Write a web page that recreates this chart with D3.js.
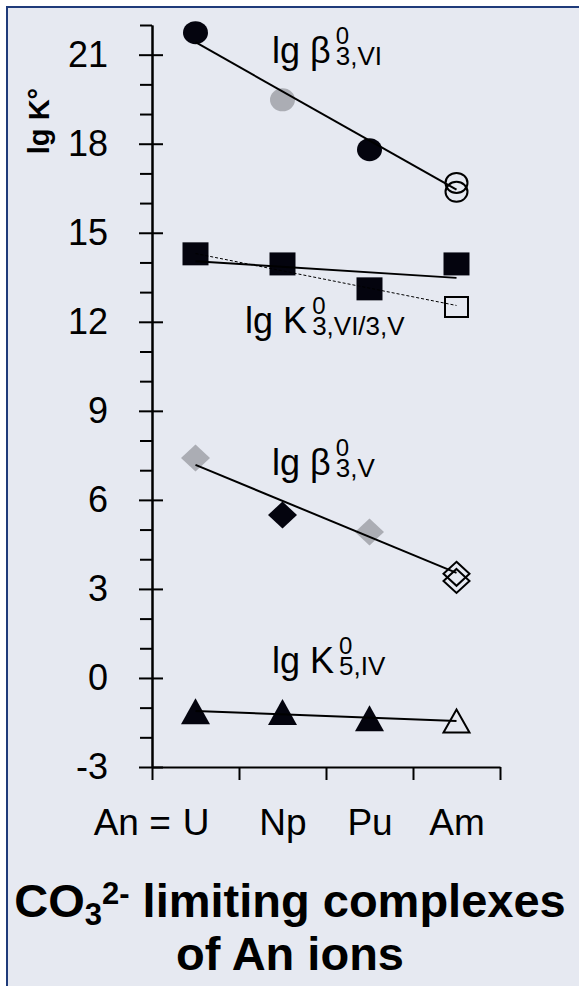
<!DOCTYPE html>
<html>
<head>
<meta charset="utf-8">
<script src="https://cdn.jsdelivr.net/npm/d3@7"></script>
<style>
  body { margin: 0; background: #fff; }
  svg { display: block; font-family: 'Liberation Sans', Arial, sans-serif; }
</style>
</head>
<body>
<svg id="chart" width="579" height="986"></svg>
<script>
const actinides = ['U', 'Np', 'Pu', 'Am'];

// lg β0(3,VI) - circles
const betaVI = [21.74, 19.48, 17.8, 16.68];
const betaVIKind = ['black', 'gray', 'black', 'open'];
const betaVIAmAlt = 16.38;
const betaVIFit = [21.42, 16.45];

// lg K0(3,VI/3,V) - squares
const kVI = [14.29, 13.95, 13.11, 13.95];
const kVIKind = ['black', 'black', 'black', 'black'];
const kVIAmAlt = 12.5;
const kVIFit = [14.04, 13.48];
const kVIFitAlt = [14.3, 12.55];

// lg β0(3,V) - diamonds
const betaV = [7.41, 5.49, 4.92, 3.51];
const betaVKind = ['gray', 'black', 'gray', 'open'];
const betaVAmAlt = 3.27;
const betaVFit = [7.18, 3.54];

// lg K0(5,IV) - triangles
const kIV = [-1.12, -1.15, -1.36, -1.45];
const kIVKind = ['black', 'black', 'black', 'open'];
const kIVFit = [-1.11, -1.45];

const yMajor = [-3, 0, 3, 6, 9, 12, 15, 18, 21];
const yMinor = [-2, -1, 1, 2, 4, 5, 7, 8, 10, 11, 13, 14, 16, 17, 19, 20, 22];
const xBounds = [-0.5, 0.5, 1.5, 2.5, 3.5];

const seriesLabels = [
  {main: 'lg β', sup: '0', sub: '3,VI', at: [0.88, 20.72]},
  {main: 'lg K', sup: '0', sub: '3,VI/3,V', at: [0.57, 11.62]},
  {main: 'lg β', sup: '0', sub: '3,V', at: [0.88, 6.84]},
  {main: 'lg K', sup: '0', sub: '5,IV', at: [0.88, 0.17]}
];

const colors = {black: '#04040e', gray: '#abadb4'};

const svg = d3.select('#chart');

// panel
svg.append('rect')
  .attr('x', 7).attr('y', 7)
  .attr('width', 620).attr('height', 1020)
  .attr('fill', '#e6e9f1')
  .attr('stroke', '#1f3b7a')
  .attr('stroke-width', 2);

const x = d3.scaleLinear().domain([-0.5, 3.5]).range([152, 500]);
const y = d3.scaleLinear().domain([-3, 22]).range([767, 25]);

// y axis
const gy = svg.append('g').attr('transform', `translate(${x(-0.5)},0)`);
gy.append('g')
  .call(d3.axisLeft(y).tickValues(yMinor).tickSize(12).tickSizeOuter(0).tickFormat(''));
gy.append('g')
  .call(d3.axisLeft(y).tickValues(yMajor).tickSize(13).tickSizeOuter(0).tickPadding(31).tickFormat(d => String(d)));
gy.append('g')
  .call(d3.axisRight(y).tickValues(yMajor).tickSize(11).tickSizeOuter(0).tickFormat(''))
  .select('.domain').remove();

// x axis
const gx = svg.append('g').attr('transform', `translate(0,${y(-3)})`);
gx.append('g')
  .call(d3.axisBottom(x).tickValues(xBounds).tickSize(13).tickSizeOuter(0).tickFormat(''));
gx.append('g')
  .call(d3.axisBottom(x).tickValues([0, 1, 2, 3]).tickSize(0).tickPadding(42).tickFormat(i => actinides[i]))
  .select('.domain').remove();

svg.selectAll('.tick line, .domain')
  .attr('stroke', '#000')
  .attr('stroke-width', 2);
svg.selectAll('.tick text')
  .attr('fill', '#000')
  .attr('font-size', 36)
  .attr('font-family', 'Liberation Sans, Arial, sans-serif');
gx.selectAll('.tick text').attr('font-size', 37);

// "An = " prefix in front of U
const uWidth = gx.selectAll('.tick text').filter(i => i === 0).node().getComputedTextLength();
svg.append('text')
  .attr('x', x(0) - uWidth / 2 - 1)
  .attr('y', y(-3) + 42)
  .attr('dy', '0.71em')
  .attr('text-anchor', 'end')
  .attr('font-size', 37)
  .text('An\u00a0=\u00a0');

// y title
svg.append('text')
  .attr('transform', 'translate(49,121) rotate(-90)')
  .attr('text-anchor', 'middle')
  .attr('font-size', 29)
  .attr('font-weight', 'bold')
  .text('lg K°');

// marker shapes, sized in px (w x h)
function shapePath(shape, w, h) {
  const a = w / 2, b = h / 2;
  if (shape === 'circle') {
    return `M${-a},0A${a},${b} 0 1,0 ${a},0A${a},${b} 0 1,0 ${-a},0Z`;
  }
  if (shape === 'square') {
    return `M${-a},${-b}H${a}V${b}H${-a}Z`;
  }
  if (shape === 'diamond') {
    return `M0,${-b}L${a},0L0,${b}L${-a},0Z`;
  }
  return `M0,${-b}L${a},${b}L${-a},${b}Z`;
}

const sizes = {circle: [25, 23], square: [26, 23], diamond: [29, 27], triangle: [29, 26]};

function drawMarkers(values, kinds, alt, shape) {
  const pts = values.map((v, i) => ({i, v, kind: kinds[i]}));
  if (alt !== null) pts.push({i: 3, v: alt, kind: 'open'});
  const [w, h] = sizes[shape];
  svg.append('g')
    .selectAll('path')
    .data(pts)
    .join('path')
      .attr('transform', d => `translate(${x(d.i)},${y(d.v)})`)
      .attr('d', d => d.kind === 'open' ? shapePath(shape, w - 3, h - 3) : shapePath(shape, w, h))
      .attr('fill', d => d.kind === 'open' ? 'none' : colors[d.kind])
      .attr('stroke', d => d.kind === 'open' ? '#000' : 'none')
      .attr('stroke-width', 2);
}

const fitLine = d3.line()
  .x((d, k) => x(k === 0 ? 0 : 3))
  .y(d => y(d));

function drawFit(fit, dashed) {
  svg.append('path')
    .datum(fit)
    .attr('d', fitLine)
    .attr('fill', 'none')
    .attr('stroke', '#000')
    .attr('stroke-width', dashed ? 1 : 2)
    .attr('stroke-dasharray', dashed ? '3,2' : null);
}

drawMarkers(betaVI, betaVIKind, betaVIAmAlt, 'circle');
drawMarkers(kVI, kVIKind, kVIAmAlt, 'square');
drawMarkers(betaV, betaVKind, betaVAmAlt, 'diamond');
drawMarkers(kIV, kIVKind, null, 'triangle');

drawFit(betaVIFit, false);
drawFit(kVIFit, false);
drawFit(kVIFitAlt, true);
drawFit(betaVFit, false);
drawFit(kIVFit, false);

// series labels with stacked sup/sub
seriesLabels.forEach(l => {
  const lx = x(l.at[0]), ly = y(l.at[1]);
  const t = svg.append('text')
    .attr('x', lx).attr('y', ly)
    .attr('font-size', 36)
    .text(l.main);
  const w = t.node().getComputedTextLength();
  svg.append('text')
    .attr('x', lx + w + 5).attr('y', ly + 2)
    .attr('font-size', 26)
    .text(l.sub);
  svg.append('text')
    .attr('x', lx + w + 5).attr('y', ly - 19)
    .attr('font-size', 24)
    .text(l.sup);
});

// title
const title = svg.append('text')
  .attr('x', 290).attr('y', 917)
  .attr('text-anchor', 'middle')
  .attr('font-size', 47)
  .attr('font-weight', 'bold');
title.append('tspan').text('CO');
title.append('tspan').attr('font-size', 31).attr('dy', 8).text('3');
title.append('tspan').attr('font-size', 31).attr('dy', -21).text('2-');
title.append('tspan').attr('dy', 13).text('\u00a0limiting complexes');

svg.append('text')
  .attr('x', 290).attr('y', 970)
  .attr('text-anchor', 'middle')
  .attr('font-size', 47)
  .attr('font-weight', 'bold')
  .text('of An ions');
</script>
</body>
</html>
